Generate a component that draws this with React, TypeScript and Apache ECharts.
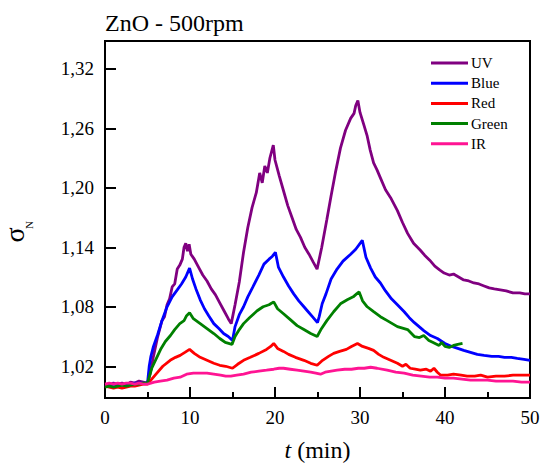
import React, { useEffect, useRef } from "react";
import * as echarts from "echarts";

const FONT = "'Liberation Serif', 'Times New Roman', serif";

const seriesNames = ["UV", "Blue", "Red", "Green", "IR"];
const seriesColors = ["#800080", "#0000ff", "#ff0000", "#008000", "#ff1493"];

const yTicks = [1.02, 1.08, 1.14, 1.2, 1.26, 1.32];

const uvData: number[][] = [
  [0, 1.002], [0.5, 1.001], [1, 1.003], [1.5, 1.002], [2, 1.003], [2.5, 1.001], [3, 1.004], [3.5, 1.003], [4, 1.005], [4.5, 1.004], [5, 1.003],
  [5.3, 1.012], [5.7, 1.03], [6.2, 1.05], [6.7, 1.066], [7.0, 1.07], [7.3, 1.082], [7.6, 1.088], [7.9, 1.1], [8.2, 1.103], [8.5, 1.118], [8.8, 1.122], [9.1, 1.128], [9.3, 1.14], [9.5, 1.144], [9.7, 1.136], [9.9, 1.143], [10.1, 1.133],
  [10.5, 1.128], [11.0, 1.12], [11.5, 1.112], [12.0, 1.106], [12.5, 1.098], [13.0, 1.092], [13.5, 1.084], [14.0, 1.076], [14.5, 1.068], [14.85, 1.063],
  [15.3, 1.082], [15.8, 1.105], [16.3, 1.135], [16.8, 1.16], [17.3, 1.18], [17.8, 1.195], [18.2, 1.215], [18.5, 1.205], [18.8, 1.222], [19.1, 1.215], [19.4, 1.23], [19.8, 1.243],
  [20.0, 1.228], [20.5, 1.212], [21.0, 1.197], [21.5, 1.182], [22.0, 1.17], [22.5, 1.158], [23.0, 1.15], [23.5, 1.14], [24.0, 1.133], [24.5, 1.125], [24.95, 1.118],
  [25.5, 1.14], [26.1, 1.168], [26.6, 1.192], [27.1, 1.215], [27.7, 1.24], [28.3, 1.258], [28.9, 1.27], [29.3, 1.275], [29.5, 1.283], [29.75, 1.288],
  [30.0, 1.276], [30.4, 1.265], [30.85, 1.252], [31.2, 1.238], [31.6, 1.225], [32.0, 1.218], [32.4, 1.21], [33.0, 1.198], [33.6, 1.19], [34.4, 1.177], [35.0, 1.165], [35.6, 1.154],
  [36.3, 1.144], [37.1, 1.137], [37.6, 1.132], [38.2, 1.127], [38.8, 1.121], [39.4, 1.117], [39.9, 1.114], [40.5, 1.112], [41.0, 1.113], [41.6, 1.11], [42.2, 1.107], [42.8, 1.106],
  [43.4, 1.104], [44.0, 1.103], [44.6, 1.101], [45.2, 1.099], [45.8, 1.098], [46.5, 1.097], [47.2, 1.096], [48.0, 1.094], [48.8, 1.094], [49.4, 1.093], [50, 1.093],
];

const blueData: number[][] = [
  [0, 1.001], [0.5, 1.0], [1, 1.002], [1.5, 1.001], [2, 1.001], [2.5, 1.002], [3, 1.002], [3.5, 1.003], [4, 1.003], [4.5, 1.003], [5, 1.003],
  [5.2, 1.02], [5.4, 1.03], [5.7, 1.04], [6.2, 1.052], [6.7, 1.066], [7.3, 1.08], [7.9, 1.09], [8.5, 1.097], [9.0, 1.103], [9.5, 1.11], [9.95, 1.119],
  [10.3, 1.108], [10.7, 1.098], [11.2, 1.087], [11.7, 1.078], [12.2, 1.071], [12.8, 1.063], [13.4, 1.058], [13.95, 1.053], [14.5, 1.05], [15.0, 1.046],
  [15.3, 1.06], [15.8, 1.072], [16.3, 1.08], [16.8, 1.09], [17.4, 1.1], [18.1, 1.112], [18.7, 1.123], [19.3, 1.128], [19.7, 1.131], [20.05, 1.135],
  [20.4, 1.12], [21.0, 1.11], [21.6, 1.101], [22.2, 1.093], [22.8, 1.086], [23.4, 1.08], [23.8, 1.076], [24.4, 1.07], [25.0, 1.064],
  [25.2, 1.07], [25.55, 1.083], [26.0, 1.093], [26.6, 1.108], [27.3, 1.118], [28.0, 1.126], [28.9, 1.133], [29.5, 1.138], [30.27, 1.147],
  [30.7, 1.13], [31.25, 1.119], [31.8, 1.11], [32.4, 1.104], [33.0, 1.096], [33.7, 1.088], [34.4, 1.082], [35.2, 1.075], [35.8, 1.069], [36.4, 1.064],
  [37.5, 1.056], [38.3, 1.051], [39.1, 1.048], [40.0, 1.043], [40.8, 1.04], [41.5, 1.038], [42.2, 1.036], [43.0, 1.034], [43.8, 1.032], [44.6, 1.031],
  [45.5, 1.03], [46.3, 1.03], [47.0, 1.029], [47.8, 1.029], [48.5, 1.028], [49.3, 1.027], [50, 1.026],
];

const redData: number[][] = [
  [0, 1.0], [0.5, 0.999], [1, 0.998], [1.5, 0.999], [2, 0.998], [2.5, 0.999], [3, 1.0], [3.5, 1.0], [4, 1.001], [4.5, 1.002], [5, 1.002],
  [5.5, 1.007], [6.1, 1.013], [6.8, 1.02], [7.67, 1.026], [8.3, 1.029], [8.84, 1.031], [9.4, 1.034], [9.95, 1.037],
  [10.5, 1.033], [11.2, 1.029], [12.0, 1.026], [12.8, 1.023], [13.5, 1.021], [14.2, 1.02], [15.0, 1.018],
  [15.6, 1.022], [16.3, 1.026], [17.1, 1.029], [18.1, 1.033], [19.0, 1.037], [19.5, 1.04], [19.85, 1.043],
  [20.3, 1.038], [21.0, 1.035], [21.6, 1.032], [22.4, 1.029], [23.4, 1.026], [24.2, 1.023], [24.96, 1.021],
  [25.6, 1.026], [26.3, 1.03], [26.9, 1.033], [27.6, 1.035], [28.4, 1.037], [29.0, 1.04], [29.7, 1.043],
  [30.3, 1.04], [31.0, 1.038], [31.6, 1.036], [32.2, 1.032], [32.8, 1.029], [33.6, 1.026], [34.4, 1.023], [35.0, 1.02], [35.4, 1.022], [35.9, 1.018],
  [36.5, 1.017], [37.1, 1.016], [37.8, 1.017], [38.3, 1.015], [38.7, 1.018], [39.1, 1.014], [39.5, 1.011], [40.3, 1.011], [41.0, 1.012], [41.9, 1.011],
  [42.6, 1.01], [43.5, 1.01], [44.2, 1.011], [45.0, 1.009], [46.0, 1.01], [47.0, 1.01], [48.0, 1.011], [49.0, 1.011], [50, 1.011],
];

const greenData: number[][] = [
  [0, 0.999], [0.5, 1.0], [1, 0.999], [1.5, 1.0], [2, 1.001], [2.5, 1.0], [3, 1.001], [3.5, 1.002], [4, 1.002], [4.5, 1.003], [5, 1.003],
  [5.5, 1.018], [6.1, 1.029], [6.6, 1.038], [7.1, 1.045], [7.7, 1.051], [8.2, 1.057], [8.8, 1.063], [9.3, 1.066], [9.6, 1.071], [9.95, 1.074],
  [10.4, 1.068], [11.2, 1.063], [12.0, 1.058], [12.8, 1.053], [13.5, 1.048], [14.15, 1.044], [14.94, 1.042],
  [15.3, 1.05], [15.8, 1.057], [16.3, 1.063], [17.0, 1.069], [17.9, 1.076], [18.6, 1.08], [19.3, 1.082], [19.85, 1.085],
  [20.3, 1.078], [21.0, 1.073], [21.8, 1.067], [22.6, 1.061], [23.4, 1.057], [24.2, 1.053], [24.96, 1.05],
  [25.4, 1.057], [26.1, 1.066], [26.9, 1.075], [27.7, 1.083], [28.5, 1.087], [29.2, 1.09], [29.6, 1.093], [29.9, 1.095],
  [30.3, 1.086], [30.85, 1.08], [31.6, 1.075], [32.4, 1.07], [33.2, 1.066], [34.4, 1.06], [35.6, 1.057], [36.4, 1.05], [37.0, 1.049], [37.5, 1.051],
  [38.1, 1.046], [38.6, 1.044], [39.3, 1.041], [39.6, 1.044], [40.0, 1.04], [40.5, 1.039], [41.0, 1.041], [41.5, 1.042], [42.06, 1.043],
];

const irData: number[][] = [
  [0, 1.002], [0.5, 1.003], [1, 1.002], [1.5, 1.003], [2, 1.002], [2.5, 1.003], [3, 1.003], [3.5, 1.002], [4, 1.003], [4.5, 1.002], [5, 1.002],
  [5.8, 1.004], [6.5, 1.005], [7.3, 1.006], [8.1, 1.008], [8.84, 1.009], [9.6, 1.012], [10.4, 1.013], [11.2, 1.013], [12.0, 1.013], [12.8, 1.012],
  [13.6, 1.011], [14.2, 1.01], [14.8, 1.01], [15.5, 1.011], [16.3, 1.012], [17.2, 1.014], [18.1, 1.015], [19.0, 1.016], [19.85, 1.017], [20.5, 1.018],
  [21.0, 1.018], [21.8, 1.017], [22.6, 1.016], [23.4, 1.015], [24.2, 1.014], [24.8, 1.013], [25.35, 1.012], [25.9, 1.014], [26.6, 1.015], [27.3, 1.016],
  [28.2, 1.017], [29.0, 1.017], [29.8, 1.018], [30.5, 1.018], [31.25, 1.019], [32.0, 1.018], [33.2, 1.016], [34.2, 1.014], [35.2, 1.013], [36.2, 1.011],
  [37.2, 1.01], [38.2, 1.009], [39.1, 1.009], [40.0, 1.008], [41.0, 1.008], [42.0, 1.007], [43.0, 1.006], [44.0, 1.006], [45.0, 1.006], [46.0, 1.005],
  [47.0, 1.005], [48.0, 1.005], [49.0, 1.004], [50, 1.004],
];

const allData = [uvData, blueData, redData, greenData, irData];

export default function App() {
  const ref = useRef<HTMLDivElement>(null);
  useEffect(() => {
    if (!ref.current) return;
    const chart = echarts.init(ref.current, undefined, { renderer: "svg" });
    chart.setOption({
      animation: false,
      backgroundColor: "#ffffff",
      textStyle: { fontFamily: FONT },
      title: {
        text: "ZnO - 500rpm",
        left: 105,
        top: 11,
        padding: 0,
        textStyle: { fontFamily: FONT, fontSize: 24, fontWeight: "normal", color: "#000" },
      },
      legend: {
        orient: "vertical",
        left: 431,
        top: 55.5,
        padding: 0,
        itemGap: 5.2,
        itemWidth: 37,
        itemHeight: 3,
        icon: "rect",
        data: seriesNames,
        textStyle: { fontFamily: FONT, fontSize: 15, lineHeight: 15, color: "#000", padding: [0, 0, 0, -2] },
      },
      grid: {
        left: 105,
        right: 12,
        top: 41,
        bottom: 66,
        containLabel: false,
        outerBoundsMode: "none",
        show: true,
        borderColor: "#000",
        borderWidth: 2,
        backgroundColor: "transparent",
      },
      xAxis: {
        type: "value",
        min: 0,
        max: 50,
        interval: 10,
        name: "{i|t} (min)",
        nameLocation: "middle",
        nameGap: 40,
        nameTextStyle: {
          fontFamily: FONT,
          fontSize: 24,
          color: "#000",
          rich: { i: { fontFamily: FONT, fontSize: 24, fontStyle: "italic", color: "#000" } },
        },
        axisLine: { show: true, lineStyle: { color: "#000", width: 2 } },
        axisTick: { show: true, inside: true, length: 11, lineStyle: { color: "#000", width: 2 } },
        minorTick: { show: true, splitNumber: 2, length: 6, lineStyle: { color: "#000", width: 2 } },
        axisLabel: { fontFamily: FONT, fontSize: 19, color: "#000", margin: 10 },
        splitLine: { show: false },
        minorSplitLine: { show: false },
      },
      yAxis: {
        type: "value",
        min: 0.988,
        max: 1.348,
        axisLine: { show: true, lineStyle: { color: "#000", width: 2 } },
        axisTick: {
          show: true,
          inside: true,
          length: 11,
          customValues: yTicks,
          lineStyle: { color: "#000", width: 2 },
        },
        axisLabel: {
          fontFamily: FONT,
          fontSize: 19,
          color: "#000",
          margin: 11,
          customValues: yTicks,
          formatter: (v: number) => v.toFixed(2).replace(".", ","),
        },
        splitLine: { show: false },
      },
      graphic: [
        {
          type: "text",
          x: 14,
          y: 235,
          rotation: Math.PI / 2,
          style: { text: "σ", fontFamily: FONT, fontSize: 28, fill: "#000", align: "center", verticalAlign: "middle" },
        },
        {
          type: "text",
          x: 28.5,
          y: 225,
          rotation: Math.PI / 2,
          style: { text: "N", fontFamily: FONT, fontSize: 11, fill: "#000", align: "center", verticalAlign: "middle" },
        },
      ],
      series: seriesNames.map((name, i) => ({
        name,
        type: "line",
        data: allData[i],
        showSymbol: false,
        symbol: "none",
        clip: true,
        color: seriesColors[i],
        lineStyle: { color: seriesColors[i], width: 2.8 },
        itemStyle: { color: seriesColors[i] },
      })),
    });
    return () => chart.dispose();
  }, []);
  return <div ref={ref} style={{ position: "fixed", left: 0, top: 0, width: 542, height: 464 }} />;
}
